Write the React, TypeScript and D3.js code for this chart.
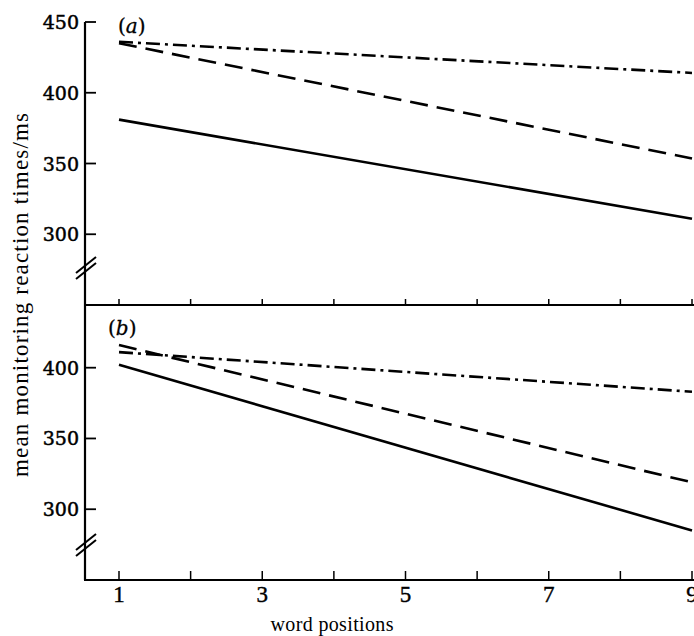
import { useEffect, useRef } from "react";
import * as d3 from "d3";

// word positions (regression lines drawn between first and last position)
const positions = [1, 9];
const allTicks = [1, 2, 3, 4, 5, 6, 7, 8, 9];
const labelTicks = [1, 3, 5, 7, 9];

// panel (a)
const aSolid = [381, 311];
const aDashed = [435, 353.5];
const aDashDot = [436, 414];
// panel (b)
const bSolid = [402, 285];
const bDashed = [416, 319];
const bDashDot = [411, 383];

const yTicksA = [300, 350, 400, 450];
const yTicksB = [300, 350, 400];

export default function App() {
  const ref = useRef<SVGSVGElement | null>(null);

  useEffect(() => {
    const width = 694;
    const height = 636;
    const axisX = 85;
    const font = "'DejaVu Serif', serif";
    const font2 = "'Liberation Serif', serif";

    const x = d3.scaleLinear([1, 9], [119, 692]);
    const yA = d3.scaleLinear([250, 450], [305, 22]);
    const yB = d3.scaleLinear([250, 444.3], [580, 305]);

    const svg = d3.select(ref.current)
      .attr("width", width)
      .attr("height", height);
    svg.selectAll("*").remove();

    const panels = [
      { y: yA, top: 22, bottom: 305, ticks: yTicksA, brk: 265, tickLen: 6, label: "a", lx: 118, ly: 33,
        series: [aSolid, aDashed, aDashDot] },
      { y: yB, top: 305, bottom: 580, ticks: yTicksB, brk: 542, tickLen: 9, label: "b", lx: 108, ly: 335,
        series: [bSolid, bDashed, bDashDot] },
    ];
    const dashes = [null, "18 9", "14 5 3 5"];

    panels.forEach((p) => {
      const g = svg.append("g");

      // vertical axis
      g.append("line")
        .attr("x1", axisX).attr("x2", axisX)
        .attr("y1", p.top).attr("y2", p.bottom)
        .attr("stroke", "#000").attr("stroke-width", 2.2);

      // bottom line of the panel
      g.append("line")
        .attr("x1", axisX - 1).attr("x2", width)
        .attr("y1", p.bottom).attr("y2", p.bottom)
        .attr("stroke", "#000").attr("stroke-width", 2.2);

      // x ticks
      g.selectAll(".xt")
        .data(allTicks)
        .join("line")
        .attr("x1", (d) => x(d)).attr("x2", (d) => x(d))
        .attr("y1", p.bottom).attr("y2", p.bottom - p.tickLen)
        .attr("stroke", "#000").attr("stroke-width", 1.5);

      // y ticks
      g.selectAll(".yt")
        .data(p.ticks)
        .join("line")
        .attr("x1", axisX).attr("x2", axisX + 11)
        .attr("y1", (d) => p.y(d)).attr("y2", (d) => p.y(d))
        .attr("stroke", "#000").attr("stroke-width", 1.8);

      g.selectAll(".yl")
        .data(p.ticks)
        .join("text")
        .attr("x", 79)
        .attr("y", (d) => p.y(d) + 7)
        .attr("text-anchor", "end")
        .attr("font-family", font)
        .attr("font-size", 19)
        .attr("stroke", "#000")
        .attr("stroke-width", 0.5)
        .text((d) => d);

      // axis break
      [0, 6].forEach((off) => {
        g.append("line")
          .attr("x1", 76).attr("y1", p.brk + 8 + off)
          .attr("x2", 96).attr("y2", p.brk - 8 + off)
          .attr("stroke", "#000").attr("stroke-width", 2);
      });

      // panel label
      const t = g.append("text")
        .attr("x", p.lx).attr("y", p.ly)
        .attr("font-family", font)
        .attr("font-size", 20)
        .attr("stroke", "#000")
        .attr("stroke-width", 0.3);
      t.append("tspan").text("(");
      t.append("tspan").attr("font-style", "italic").text(p.label);
      t.append("tspan").text(")");

      // lines
      p.series.forEach((vals, i) => {
        const line = d3.line<number>()
          .x((_, j) => x(positions[j]))
          .y((d) => p.y(d));
        g.append("path")
          .datum(vals)
          .attr("fill", "none")
          .attr("stroke", "#000")
          .attr("stroke-width", 2.6)
          .attr("stroke-dasharray", dashes[i])
          .attr("d", line);
      });
    });

    // x tick labels
    svg.selectAll(".xl")
      .data(labelTicks)
      .join("text")
      .attr("x", (d) => x(d))
      .attr("y", 602)
      .attr("text-anchor", "middle")
      .attr("font-family", font2)
      .attr("font-size", 23)
      .attr("stroke", "#000")
      .attr("stroke-width", 0.4)
      .text((d) => d);

    // axis titles
    svg.append("text")
      .attr("x", 332)
      .attr("y", 631)
      .attr("text-anchor", "middle")
      .attr("font-family", font2)
      .attr("font-size", 20)
      .attr("textLength", 123)
      .attr("lengthAdjust", "spacing")
      .text("word positions");

    svg.append("text")
      .attr("transform", "translate(28,295) rotate(-90)")
      .attr("text-anchor", "middle")
      .attr("font-family", font2)
      .attr("font-size", 23)
      .attr("textLength", 364)
      .attr("lengthAdjust", "spacing")
      .text("mean monitoring reaction times/ms");
  }, []);

  return (
    <svg
      ref={ref}
      style={{ position: "absolute", left: 0, top: 0, background: "#fff" }}
    />
  );
}
